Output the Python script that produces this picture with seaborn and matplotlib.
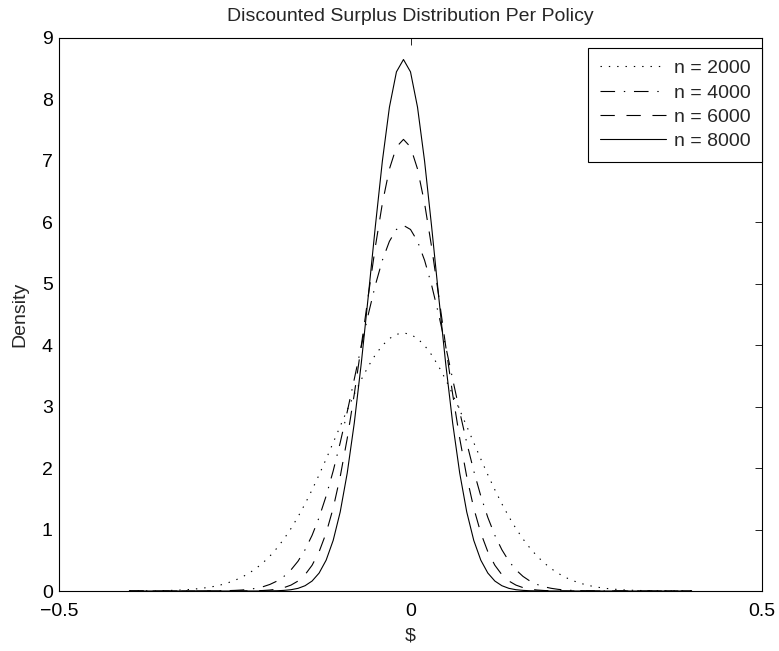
import numpy as np
import pandas as pd
import matplotlib
matplotlib.use("Agg")
import matplotlib.pyplot as plt
import seaborn as sns

sns.set_style("white")
plt.rcParams['font.family'] = ['Liberation Sans', 'DejaVu Sans']
plt.rcParams['lines.scale_dashes'] = False

# ---------------------------------------------------------------
# Data (x grid -0.40 .. 0.40, step 0.01)
# ---------------------------------------------------------------
x_vals = [round(-0.40 + 0.01 * i, 2) for i in range(81)]

dens_2000 = [0.001, 0.001, 0.002, 0.003, 0.005, 0.007, 0.010, 0.014, 0.020, 0.029,
             0.040, 0.055, 0.074, 0.099, 0.132, 0.173, 0.224, 0.288, 0.365, 0.458,
             0.568, 0.698, 0.847, 1.017, 1.208, 1.418, 1.647, 1.891, 2.148, 2.414,
             2.681, 2.946, 3.201, 3.441, 3.657, 3.844, 3.996, 4.108, 4.177, 4.200,
             4.177, 4.108, 3.996, 3.844, 3.657, 3.441, 3.201, 2.946, 2.681, 2.414,
             2.148, 1.891, 1.647, 1.418, 1.208, 1.017, 0.847, 0.698, 0.568, 0.458,
             0.365, 0.288, 0.224, 0.173, 0.132, 0.099, 0.074, 0.055, 0.040, 0.029,
             0.020, 0.014, 0.010, 0.007, 0.005, 0.003, 0.002, 0.001, 0.001, 0.000,
             0.000]

dens_4000 = [0.000, 0.000, 0.000, 0.000, 0.000, 0.000, 0.000, 0.000, 0.000, 0.000,
             0.000, 0.001, 0.002, 0.003, 0.006, 0.010, 0.016, 0.027, 0.044, 0.069,
             0.107, 0.161, 0.238, 0.344, 0.485, 0.671, 0.906, 1.197, 1.546, 1.953,
             2.414, 2.917, 3.447, 3.985, 4.504, 4.979, 5.383, 5.691, 5.884, 5.950,
             5.884, 5.691, 5.383, 4.979, 4.504, 3.985, 3.447, 2.917, 2.414, 1.953,
             1.546, 1.197, 0.906, 0.671, 0.485, 0.344, 0.238, 0.161, 0.107, 0.069,
             0.044, 0.027, 0.016, 0.010, 0.006, 0.003, 0.002, 0.001, 0.000, 0.000,
             0.000, 0.000, 0.000, 0.000, 0.000, 0.000, 0.000, 0.000, 0.000, 0.000,
             0.000]

dens_6000 = [0.000, 0.000, 0.000, 0.000, 0.000, 0.000, 0.000, 0.000, 0.000, 0.000,
             0.000, 0.000, 0.000, 0.000, 0.000, 0.000, 0.001, 0.002, 0.004, 0.008,
             0.016, 0.030, 0.055, 0.096, 0.162, 0.265, 0.419, 0.639, 0.944, 1.348,
             1.861, 2.483, 3.202, 3.992, 4.810, 5.603, 6.310, 6.868, 7.226, 7.350,
             7.226, 6.868, 6.310, 5.603, 4.810, 3.992, 3.202, 2.483, 1.861, 1.348,
             0.944, 0.639, 0.419, 0.265, 0.162, 0.096, 0.055, 0.030, 0.016, 0.008,
             0.004, 0.002, 0.001, 0.000, 0.000, 0.000, 0.000, 0.000, 0.000, 0.000,
             0.000, 0.000, 0.000, 0.000, 0.000, 0.000, 0.000, 0.000, 0.000, 0.000,
             0.000]

dens_8000 = [0.000, 0.000, 0.000, 0.000, 0.000, 0.000, 0.000, 0.000, 0.000, 0.000,
             0.000, 0.000, 0.000, 0.000, 0.000, 0.000, 0.000, 0.000, 0.000, 0.001,
             0.002, 0.004, 0.010, 0.021, 0.043, 0.086, 0.162, 0.292, 0.502, 0.823,
             1.286, 1.919, 2.731, 3.708, 4.804, 5.936, 6.999, 7.873, 8.449, 8.650,
             8.449, 7.873, 6.999, 5.936, 4.804, 3.708, 2.731, 1.919, 1.286, 0.823,
             0.502, 0.292, 0.162, 0.086, 0.043, 0.021, 0.010, 0.004, 0.002, 0.001,
             0.000, 0.000, 0.000, 0.000, 0.000, 0.000, 0.000, 0.000, 0.000, 0.000,
             0.000, 0.000, 0.000, 0.000, 0.000, 0.000, 0.000, 0.000, 0.000, 0.000,
             0.000]

series_labels = ["n = 2000", "n = 4000", "n = 6000", "n = 8000"]
series_values = [dens_2000, dens_4000, dens_6000, dens_8000]
x_ticks = [-0.5, 0, 0.5]
x_ticklabels = ["\u22120.5", "0", "0.5"]
y_ticks = list(range(10))

# MATLAB-like line styles: ':'  '-.'  '--'  '-'
styles = [(0, (1.0, 5.0)),
          (0, (10.5, 6.3, 1.0, 6.3)),
          (0, (10.3, 8.4)),
          "-"]

FS = 14

fig = plt.figure(figsize=(7.79, 6.51), dpi=100)
ax = fig.add_axes([59 / 779, 1 - 591 / 651, 703 / 779, 553 / 651])

for lab, vals, ls in zip(series_labels, series_values, styles):
    df = pd.DataFrame({"x": x_vals, "y": vals})
    sns.lineplot(data=df, x="x", y="y", ax=ax, color="black", linewidth=0.8,
                 linestyle=ls, label=lab, estimator=None, sort=False)

ax.set_xlim(-0.5, 0.5)
ax.set_ylim(0, 9)
ax.set_xticks(x_ticks)
ax.set_xticklabels(x_ticklabels)
ax.set_yticks(y_ticks)
ax.tick_params(direction="in", length=4.8, width=0.6, labelsize=FS,
               top=True, right=True, colors="black")
ax.tick_params(axis="x", pad=9)
ax.tick_params(axis="y", pad=4.5)
for sp in ax.spines.values():
    sp.set_linewidth(0.8)
    sp.set_color("black")

ax.set_xlabel(r"\$", fontsize=FS, labelpad=5)
ax.set_ylabel("Density", fontsize=FS, labelpad=9.5)
ax.set_title("Discounted Surplus Distribution Per Policy", fontsize=FS, pad=12.5)

leg = ax.legend(loc="upper right", bbox_to_anchor=(1.0, 1 - 10 / 553),
                borderaxespad=0, fontsize=FS, handlelength=3.4,
                handletextpad=0.4, labelspacing=0.34, borderpad=0.6,
                fancybox=False, framealpha=1, edgecolor="black")
leg.get_frame().set_linewidth(0.8)

plt.savefig("out.png", dpi=100)
plt.close()
